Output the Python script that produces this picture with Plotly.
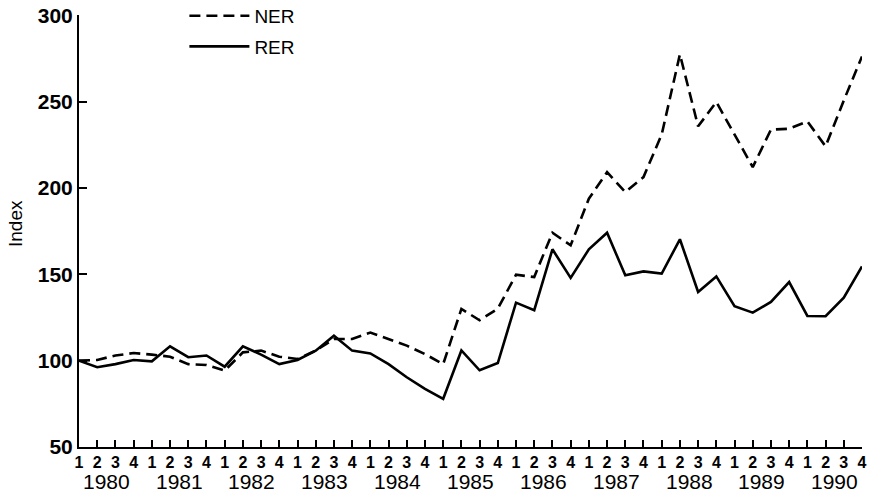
import plotly.graph_objects as go

years = [str(y) for y in range(1980, 1991)]
quarter_labels = ["1", "2", "3", "4"] * len(years)
period_index = list(range(len(quarter_labels)))

ner = [100, 100.4, 103, 104.4, 103.5, 102.3, 98, 97.5, 94.2, 104.8, 105.8, 102.3,
       101, 105.8, 112.5, 112.5, 116.3, 112.5, 108.7, 103.8, 98, 130, 123.4, 130.1,
       149.8, 148.4, 174.1, 166.8, 193.8, 209.2, 197.6, 206.3, 231, 277.4, 235.7, 249.8,
       230.7, 212.1, 233.8, 234.3, 238.6, 224.1, 250.7, 276.2]
rer = [100, 96.2, 98, 100.4, 99.6, 108.3, 102, 103, 96.5, 108.3, 103.5, 98,
       100.4, 105.8, 114.4, 105.8, 104.2, 98, 90.4, 83.7, 77.9, 105.9, 94.4, 98.6,
       133.6, 129.2, 164.5, 147.9, 164.5, 174.1, 149.4, 151.7, 150.4, 170.3, 139.8, 148.8,
       131.5, 127.8, 134, 145.5, 125.9, 125.7, 136.5, 154.6]

FONT = "Liberation Sans, Arial, sans-serif"
W, H = 871, 494
ML, MR, MT, MB = 79, 9, 0, 47
PLOT_TOP_PX = 15.3
plot_h = H - MT - MB
plot_w = W - ML - MR
y_top = 1 - (PLOT_TOP_PX - MT) / plot_h

fig = go.Figure()
fig.add_trace(go.Scatter(x=period_index, y=ner, mode="lines", name="NER", legendgroup="a",
                         line=dict(color="black", width=2.6, dash="11px,6px")))
fig.add_trace(go.Scatter(x=period_index, y=rer, mode="lines", name="RER", legendgroup="b",
                         line=dict(color="black", width=2.6)))

for k, yr in enumerate(years):
    fig.add_annotation(x=4 * k + 1.5, y=-34 / plot_h, xref="x", yref="paper", text=yr,
                       showarrow=False, yanchor="middle", xanchor="center",
                       font=dict(family=FONT, size=21, color="black"))

fig.add_annotation(x=-64 / plot_w, y=1 - (224 - MT) / plot_h, xref="paper", yref="paper",
                   text="Index", textangle=-90, showarrow=False,
                   xanchor="center", yanchor="middle",
                   font=dict(family=FONT, size=19, color="black"))

fig.update_layout(
    width=W, height=H,
    margin=dict(l=ML, r=MR, t=MT, b=MB, autoexpand=False),
    paper_bgcolor="white", plot_bgcolor="white",
    font=dict(family=FONT, color="black"),
    showlegend=True,
    legend=dict(x=0.1346, y=1.007, xanchor="left", yanchor="top",
                tracegroupgap=3, itemwidth=60,
                font=dict(family=FONT, size=19, color="black"),
                bgcolor="rgba(0,0,0,0)", borderwidth=0),
    xaxis=dict(range=[0, 43], tickmode="array", tickvals=period_index,
               ticktext=quarter_labels, ticks="inside", ticklen=7, tickwidth=2,
               tickcolor="black", showline=True, linecolor="black", linewidth=2,
               showgrid=False, zeroline=False, automargin=False,
               tickfont=dict(family=FONT, size=16, color="black", weight="bold")),
    yaxis=dict(range=[50, 300], domain=[0, y_top], tickmode="array",
               tickvals=[50, 100, 150, 200, 250, 300],
               ticks="inside", ticklen=8, tickwidth=2, tickcolor="black",
               showline=True, linecolor="black", linewidth=2,
               showgrid=False, zeroline=False, automargin=False,
               tickfont=dict(family=FONT, size=21, color="black", weight="bold")),
)

fig.write_html("out.html", config={"displayModeBar": False},
               post_script="document.body.style.margin='0';document.body.style.overflow='hidden';")
